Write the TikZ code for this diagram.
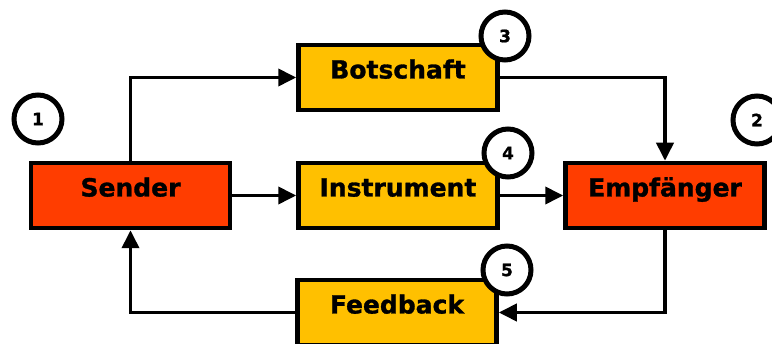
\documentclass[tikz,border=0pt]{standalone}
\usepackage{fontspec}
\setmainfont{DejaVu Sans}
\newfontfamily\heavyfont{DejaVu Sans Bold}[FakeBold=1.2]
\usetikzlibrary{arrows.meta}
\definecolor{partyred}{HTML}{FF3D00}
\definecolor{channelyellow}{HTML}{FFC000}
\begin{document}
\begin{tikzpicture}[x=1pt,y=-1pt,
  box/.style={draw=black, line width=4.5pt, minimum width=199pt, minimum height=65pt,
    inner sep=0pt, text height=20pt, text depth=18pt,
    font=\heavyfont\fontsize{25}{29}\selectfont},
  party/.style={box, fill=partyred},
  channel/.style={box, fill=channelyellow},
  badge/.style={circle, draw=black, fill=white, line width=5pt, minimum size=48pt,
    inner sep=0pt, font=\heavyfont\fontsize{17}{19}\selectfont},
  flow/.style={line width=3.8pt, -{Triangle[length=18pt,width=17pt]}}]
  \clip (0,0) rectangle (772,344);
  \useasboundingbox (0,0) rectangle (772,344);

  % boxes
  \node[party]   (sender)     at (130.5,195.5) {Sender};
  \node[party]   (empf)       at (665,195.5)   {Empfänger};
  \node[channel] (botschaft)  at (398,77.5)    {Botschaft};
  \node[channel] (instrument) at (398,195.5)   {Instrument};
  \node[channel] (feedback)   at (397,312.5)   {Feedback};

  % connectors
  \draw[flow] (sender.north) |- (botschaft.west);
  \draw[flow] (sender.east) -- (instrument.west);
  \draw[flow] (botschaft.east) -| (empf.north);
  \draw[flow] (instrument.east) -- (empf.west);
  \draw[flow] (empf.south) |- (feedback.east);
  \draw[flow] (feedback.west) -| (sender.south);

  % numbered badges
  \node[badge] (n1) at (38,119)  {1};
  \node[badge] (n2) at (757,120) {2};
  \node[badge] (n3) at (505,36)  {3};
  \node[badge] (n4) at (508,153) {4};
  \node[badge] (n5) at (507,270) {5};
\end{tikzpicture}
\end{document}
